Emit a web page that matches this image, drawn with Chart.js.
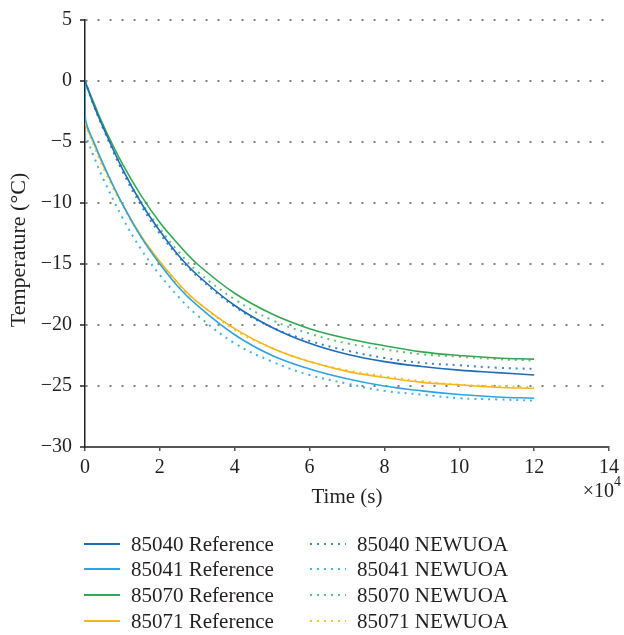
<!DOCTYPE html>
<html>
<head>
<meta charset="utf-8">
<script src="https://cdn.jsdelivr.net/npm/chart.js@4.4.0/dist/chart.umd.min.js"></script>
<style>
  body { margin: 0; background: #fff; }
  #wrap { position: relative; width: 624px; height: 635px; }
  #legend { position: absolute; left: 0; top: 0; font-family: "Liberation Serif", serif; font-size: 21px; color: #231f20; }
  .item { position: absolute; display: flex; align-items: center; white-space: nowrap; height: 24px; }
  .swatch { width: 36px; height: 2px; margin-right: 11px; }
</style>
</head>
<body>
<div id="wrap">
  <canvas id="tempChart" width="624" height="635"></canvas>
  <div id="legend"></div>
</div>
<script>
// Tiempos en segundos
const times = [0, 100, 2500, 5000, 10000, 15000, 20000, 25000, 30000, 40000, 50000, 60000, 70000, 80000, 90000, 100000, 110000, 120000];

// Curvas de referencia
const ref85040 = [0, -0.1, -2.1, -3.9, -7.2, -10.0, -12.3, -14.3, -15.9, -18.4, -20.2, -21.5, -22.4, -23.0, -23.4, -23.7, -23.9, -24.1];
const ref85041 = [0, -3.1, -5.1, -6.9, -10.1, -12.8, -15.0, -16.9, -18.4, -20.8, -22.5, -23.6, -24.4, -25.0, -25.4, -25.7, -25.9, -26.0];
const ref85070 = [0, -0.1, -1.9, -3.7, -6.8, -9.4, -11.6, -13.4, -15.0, -17.4, -19.1, -20.3, -21.1, -21.7, -22.2, -22.5, -22.7, -22.8];
const ref85071 = [0, -3.3, -5.2, -7.0, -10.1, -12.7, -14.8, -16.6, -18.1, -20.3, -21.9, -23.0, -23.8, -24.3, -24.7, -24.9, -25.1, -25.2];

// Curvas NEWUOA
const new85040 = [0, -0.1, -2.1, -4.0, -7.4, -10.2, -12.5, -14.4, -16.0, -18.5, -20.2, -21.3, -22.1, -22.7, -23.1, -23.3, -23.5, -23.6];
const new85041 = [-4.3, -4.4, -6.3, -8.1, -11.2, -13.8, -15.9, -17.7, -19.2, -21.5, -23.0, -24.1, -24.8, -25.4, -25.7, -26.0, -26.1, -26.2];
const new85070 = [0, -0.1, -2.1, -3.9, -7.2, -9.9, -12.1, -14.0, -15.6, -17.9, -19.6, -20.7, -21.5, -22.0, -22.4, -22.6, -22.8, -22.9];
const new85071 = [-3.5, -3.6, -5.4, -7.2, -10.2, -12.8, -14.9, -16.7, -18.1, -20.4, -21.9, -23.0, -23.7, -24.2, -24.6, -24.9, -25.0, -25.1];

const yTicks = [5, 0, -5, -10, -15, -20, -25, -30];
const xTicks = [0, 2, 4, 6, 8, 10, 12, 14];

const FONT = "'Liberation Serif', serif";
const INK = "#231f20";

const toPoints = arr => arr.map((v, i) => ({ x: times[i], y: v }));

const series = [
  { label: "85040 Reference", values: ref85040, color: "#1f6cb8", dotted: false },
  { label: "85041 Reference", values: ref85041, color: "#2aa5e2", dotted: false },
  { label: "85070 Reference", values: ref85070, color: "#33a852", dotted: false },
  { label: "85071 Reference", values: ref85071, color: "#f6b619", dotted: false },
  { label: "85040 NEWUOA", values: new85040, color: "#3d85d0", dotted: true },
  { label: "85041 NEWUOA", values: new85041, color: "#45b0e8", dotted: true },
  { label: "85070 NEWUOA", values: new85070, color: "#5bc37a", dotted: true },
  { label: "85071 NEWUOA", values: new85071, color: "#f8c437", dotted: true }
];

const datasets = series.map(s => ({
  label: s.label,
  data: toPoints(s.values),
  borderColor: s.color,
  backgroundColor: s.color,
  borderWidth: s.dotted ? 2 : 1.6,
  borderDash: s.dotted ? [2, 5] : [],
  pointRadius: 0,
  tension: 0.4,
  fill: false
}));

// Título del eje y y el "×10^4" bajo el eje x
const extraText = {
  id: "extraText",
  afterDraw(chart) {
    const ctx = chart.ctx;
    const right = chart.chartArea.right;
    ctx.save();
    ctx.fillStyle = INK;
    ctx.textBaseline = "alphabetic";
    ctx.textAlign = "right";
    ctx.font = "14px " + FONT;
    ctx.fillText("4", right + 12, 486);
    ctx.font = "20px " + FONT;
    ctx.fillText("×10", right + 5, 497);
    // título vertical
    ctx.translate(19, 250);
    ctx.rotate(-Math.PI / 2);
    ctx.textAlign = "center";
    ctx.textBaseline = "middle";
    ctx.font = "22px " + FONT;
    ctx.fillText("Temperature (°C)", 0, 0);
    ctx.restore();
  }
};

const chart = new Chart("tempChart", {
  type: "line",
  data: { datasets },
  options: {
    responsive: false,
    animation: false,
    layout: { padding: { left: 0, right: 14, top: 17, bottom: 110 } },
    plugins: { legend: { display: false }, tooltip: { enabled: false } },
    scales: {
      x: {
        type: "linear",
        min: 0,
        max: 140000,
        afterBuildTicks: scale => { scale.ticks = xTicks.map(v => ({ value: v * 1e4 })); },
        afterFit: scale => { scale.height = 78; },
        ticks: {
          color: INK,
          font: { family: FONT, size: 20 },
          padding: 5,
          maxRotation: 0,
          callback: v => String(v / 1e4)
        },
        grid: { drawOnChartArea: false, drawTicks: true, tickLength: 4, color: "#555", lineWidth: 1.5 },
        border: { color: "#555", width: 2 },
        title: { display: true, text: "Time (s)", color: INK, font: { family: FONT, size: 21 }, padding: { top: 0, bottom: 15 } }
      },
      y: {
        min: -30,
        max: 5,
        afterBuildTicks: scale => { scale.ticks = yTicks.map(v => ({ value: v })); },
        afterFit: scale => { scale.width = 85; },
        ticks: {
          color: INK,
          font: { family: FONT, size: 20 },
          padding: 8,
          callback: v => String(v).replace("-", "\u2212")
        },
        grid: { color: "#808080", lineWidth: 2, tickLength: 5, tickColor: "#222", tickBorderDash: [], tickWidth: 1.5 },
        border: { color: "#222", width: 1.5, dash: [2, 10] }
      }
    }
  },
  plugins: [extraText]
});

// Leyenda en dos columnas construida desde los datasets
const legend = document.getElementById("legend");
const colX = [84, 310];
const rowY = [532, 557, 583, 609];
chart.data.datasets.forEach((ds, i) => {
  const item = document.createElement("div");
  item.className = "item";
  item.style.left = colX[Math.floor(i / 4)] + "px";
  item.style.top = rowY[i % 4] + "px";
  const sw = document.createElement("span");
  sw.className = "swatch";
  if (ds.borderDash.length) {
    sw.style.background = `repeating-linear-gradient(to right, ${ds.borderColor} 0 2px, transparent 2px 7px)`;
  } else {
    sw.style.background = ds.borderColor;
  }
  const txt = document.createElement("span");
  txt.textContent = ds.label;
  item.appendChild(sw);
  item.appendChild(txt);
  legend.appendChild(item);
});
</script>
</body>
</html>
